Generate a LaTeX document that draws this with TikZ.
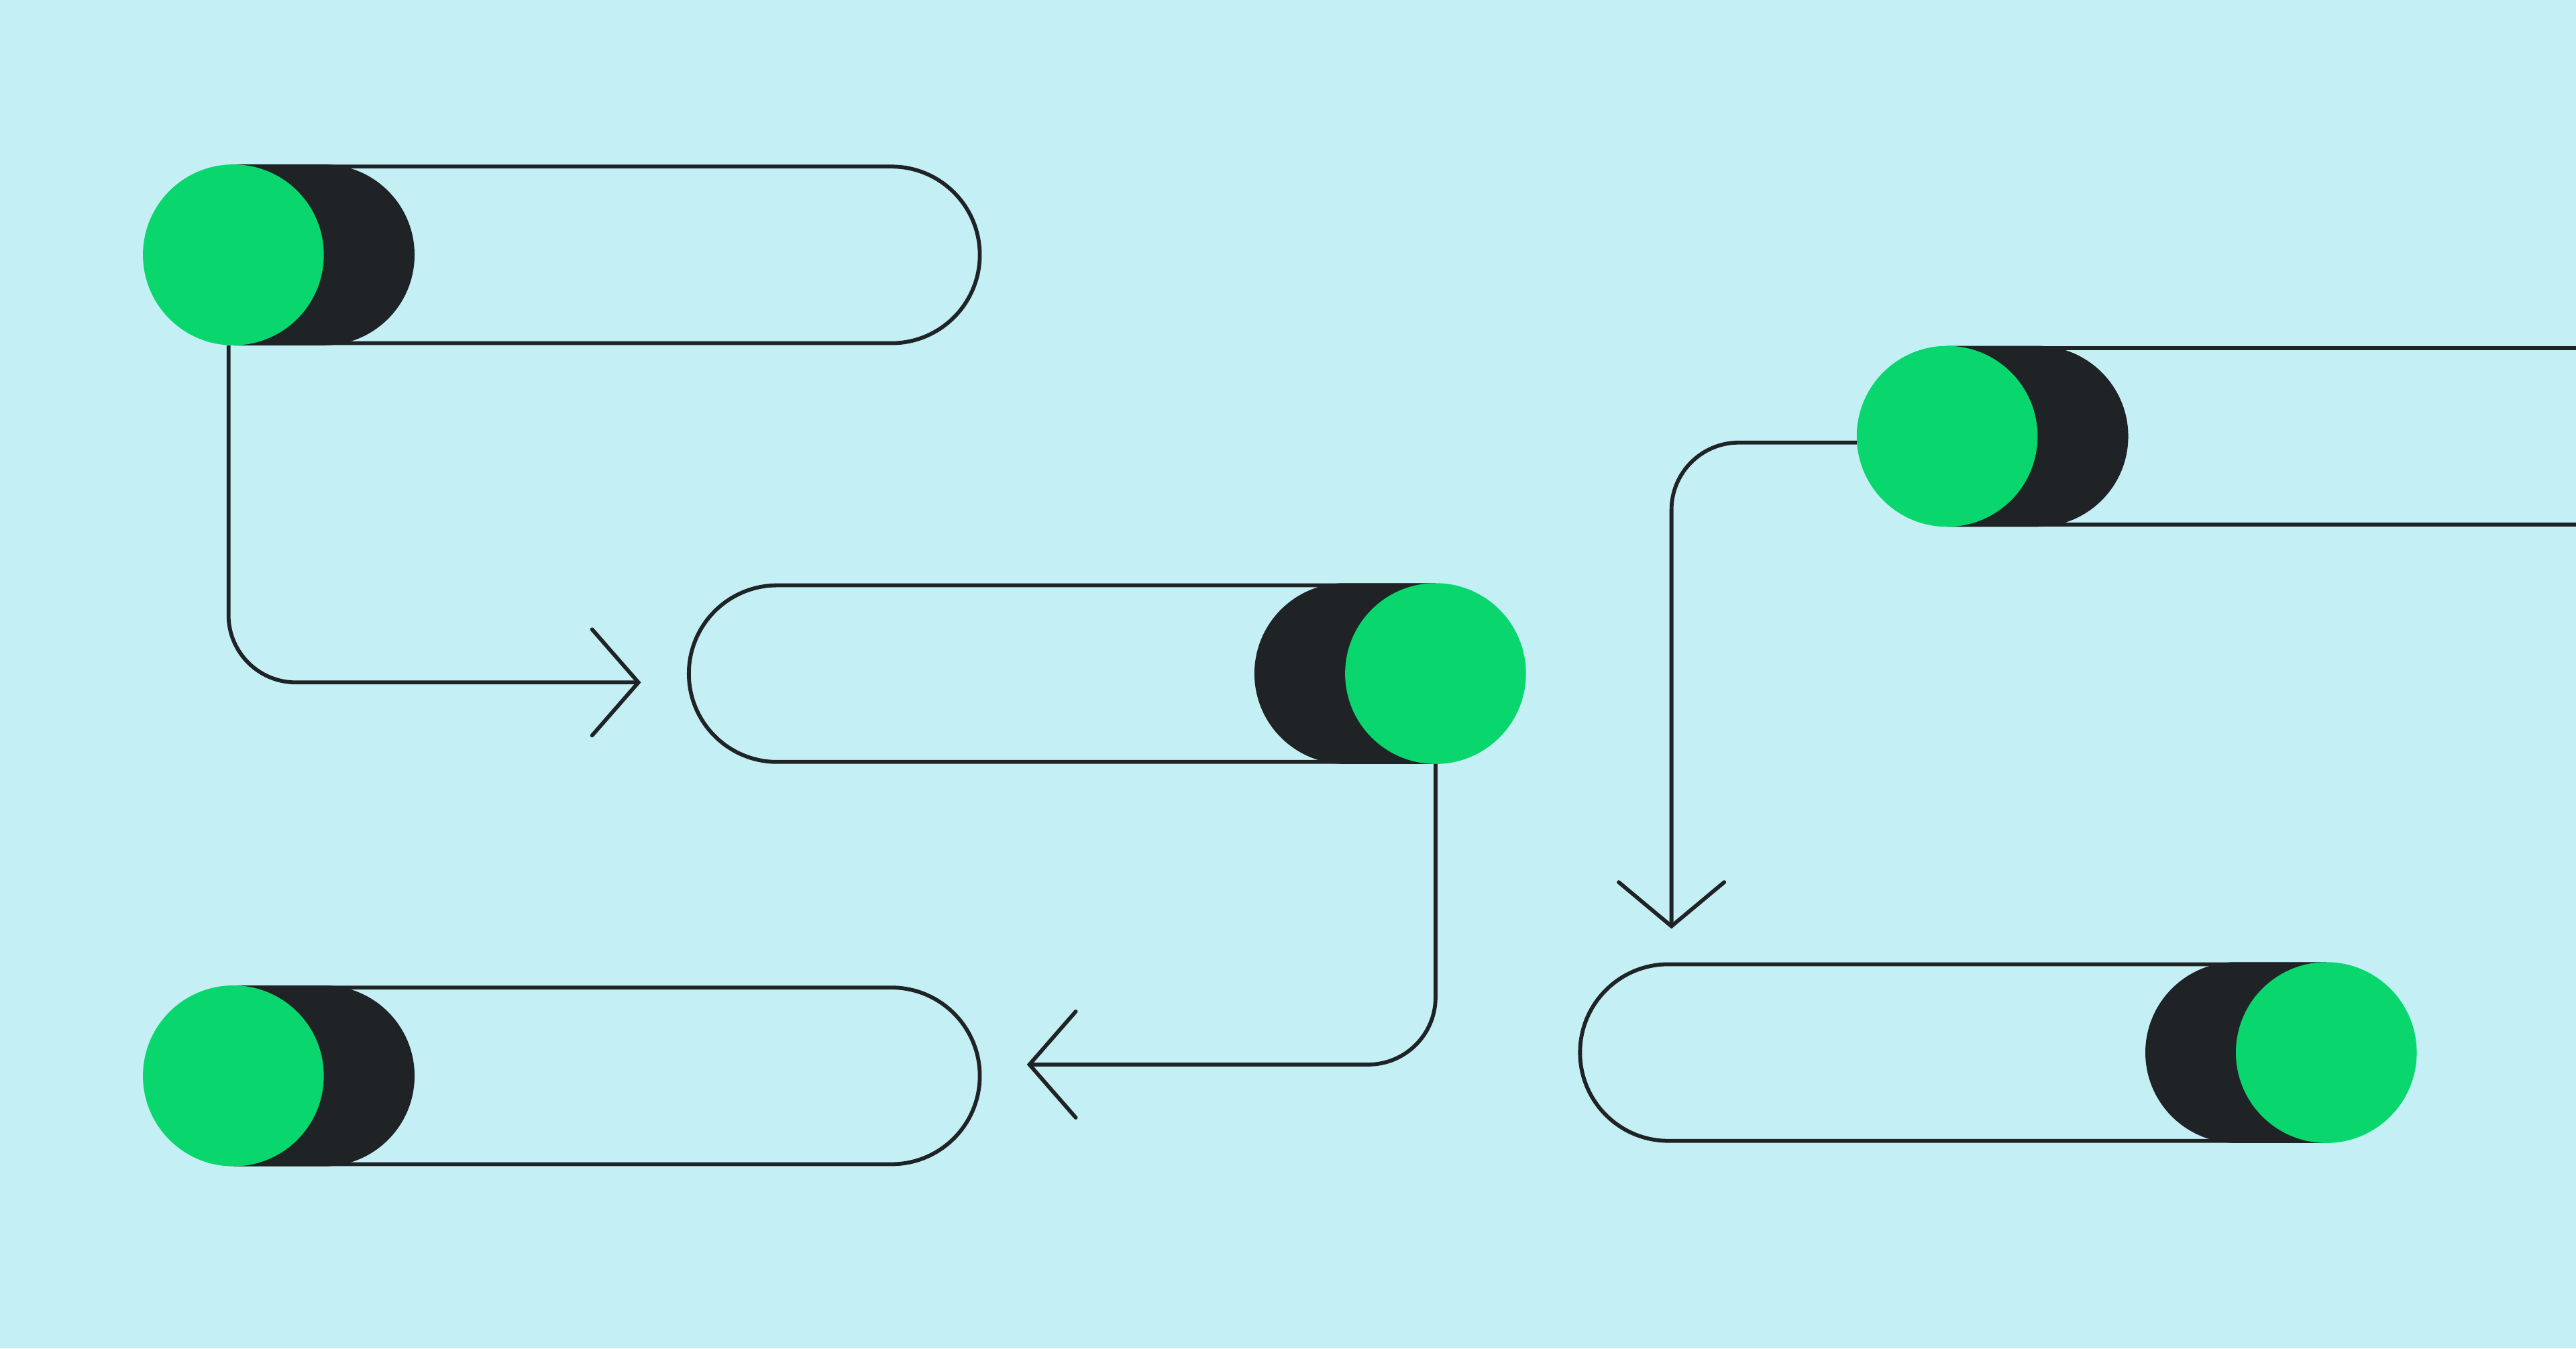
\documentclass[tikz,border=0pt]{standalone}
\usetikzlibrary{calc}
\definecolor{bgc}{RGB}{196,240,245}
\definecolor{grn}{RGB}{10,214,110}
\definecolor{drk}{RGB}{32,35,38}
\begin{document}
\begin{tikzpicture}[x=0.02449cm,y=-0.02449cm,
 outline/.style={draw=drk,line width=1.65pt},
 conn/.style={draw=drk,line width=1.65pt,rounded corners=1.004cm},
 chev/.style={draw=drk,line width=1.65pt,line cap=round,line join=miter},
 knob/.style={circle,fill=grn,draw=none,inner sep=0pt,outer sep=0pt,minimum size=2.696cm},
 shade/.style={fill=drk}]
\fill[bgc] (0,0) rectangle (1568,820.8);
\useasboundingbox (0,0) rectangle (1568,820.8);
\clip (0,0) rectangle (1568,820.8);

% Pill A
\fill[shade] (142.05,100.1) -- (197.3,100.1) arc[start angle=-90,end angle=90,radius=55.05] -- (142.05,210.2) -- cycle;
\draw[outline] (142.05,101.4) -- (542.65,101.4) arc[start angle=-90,end angle=90,radius=53.75] -- (142.05,208.9);
\node[knob] (gA) at (142.05,155.15) {};

% Pill B
\fill[shade] (873.8,354.95) -- (818.6,354.95) arc[start angle=-90,end angle=-270,radius=55.05] -- (873.8,465.05) -- cycle;
\draw[outline] (873.8,356.3) -- (473.05,356.3) arc[start angle=-90,end angle=-270,radius=53.75] -- (873.8,463.8);
\node[knob] (gB) at (873.8,410) {};

% Pill C
\fill[shade] (142.05,599.85) -- (197.3,599.85) arc[start angle=-90,end angle=90,radius=55.05] -- (142.05,709.95) -- cycle;
\draw[outline] (142.05,601.15) -- (542.65,601.15) arc[start angle=-90,end angle=90,radius=53.75] -- (142.05,708.65);
\node[knob] (gC) at (142.05,654.9) {};

% Pill D
\fill[shade] (1185.2,210.55) -- (1240.4,210.55) arc[start angle=-90,end angle=90,radius=55.05] -- (1185.2,320.65) -- cycle;
\draw[outline] (1185.2,211.85) -- (1580,211.85);
\draw[outline] (1185.2,319.35) -- (1580,319.35);
\node[knob] (gD) at (1185.2,265.6) {};

% Pill E
\fill[shade] (1416,585.65) -- (1360.9,585.65) arc[start angle=-90,end angle=-270,radius=55.05] -- (1416,695.75) -- cycle;
\draw[outline] (1416,586.95) -- (1015.5,586.95) arc[start angle=-90,end angle=-270,radius=53.75] -- (1416,694.45);
\node[knob] (gE) at (1416,640.7) {};

% Connectors
\coordinate (tA) at (388.6,415.4);
\coordinate (tC) at (626.6,648);
\coordinate (tE) at (1017.4,563.8);
\draw[conn] ($(gA.south)+(-2.95,0)$) |- (tA);
\draw[chev] ($(tA)+(-28.2,-32.3)$) -- (tA) -- ($(tA)+(-28.2,32.3)$);
\draw[conn] (gB.south) |- (tC);
\draw[chev] ($(tC)+(28.2,-32.3)$) -- (tC) -- ($(tC)+(28.2,32.3)$);
\draw[conn] ($(gD.west)+(0,3.8)$) -| (tE);
\draw[chev] ($(tE)+(-32.1,-26.8)$) -- (tE) -- ($(tE)+(32.1,-26.8)$);
\end{tikzpicture}
\end{document}
